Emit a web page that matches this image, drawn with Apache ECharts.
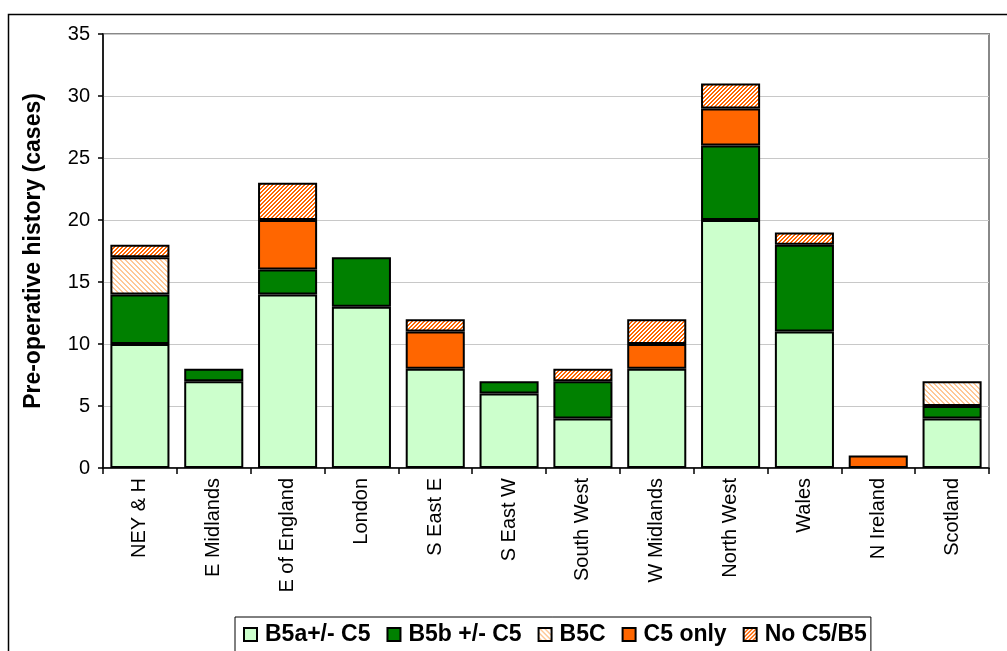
<!DOCTYPE html>
<html>
<head>
<meta charset="utf-8">
<script src="https://cdn.jsdelivr.net/npm/echarts@6/dist/echarts.min.js"></script>
<style>
html,body{margin:0;padding:0;background:#fff;}
#c{width:1007px;height:651px;}
</style>
</head>
<body>
<div id="c"></div>
<script>
const categories = ["NEY & H","E Midlands","E of England","London","S East E","S East W","South West","W Midlands","North West","Wales","N Ireland","Scotland"];
const seriesNames = ["B5a+/- C5","B5b +/- C5","B5C","C5 only","No C5/B5"];
const b5a    = [10, 7, 14, 13, 8, 6, 4, 8, 20, 11, 0, 4];
const b5b    = [ 4, 1,  2,  4, 0, 1, 3, 0,  6,  7, 0, 1];
const b5c    = [ 3, 0,  0,  0, 0, 0, 0, 0,  0,  0, 0, 2];
const c5only = [ 0, 0,  4,  0, 3, 0, 0, 2,  3,  0, 1, 0];
const noC5B5 = [ 1, 0,  3,  0, 1, 0, 1, 2,  2,  1, 0, 0];
const yTicks = [0,5,10,15,20,25,30,35];

function makePattern(size, color, test){
  const cv = document.createElement('canvas');
  cv.width = size; cv.height = size;
  const ctx = cv.getContext('2d');
  ctx.fillStyle = '#ffffff';
  ctx.fillRect(0,0,size,size);
  ctx.fillStyle = color;
  for(let y=0;y<size;y++){
    for(let x=0;x<size;x++){
      if(test(x,y)) ctx.fillRect(x,y,1,1);
    }
  }
  return {image: cv, repeat: 'repeat'};
}
const patB5C = makePattern(10, '#FFC896', (x,y)=> ((x - y + 20) % 5) < 2);
const patNo  = makePattern(8, '#FF6600', (x,y)=> ((x + y) % 4) < 2);

const colors = ['#CCFFCC', '#008000', patB5C, '#FF6600', patNo];
const dataArr = [b5a, b5b, b5c, c5only, noC5B5];
const FF = 'Liberation Sans, Arial, sans-serif';

const series = seriesNames.map((n,i)=>({
  name: n,
  type: 'bar',
  stack: 'total',
  barCategoryGap: '20%',
  data: dataArr[i].map(v => v === 0 ? null : v),
  itemStyle: { color: colors[i], borderColor: '#000', borderWidth: 2 },
  emphasis: { disabled: true },
  animation: false
}));

const chart = echarts.init(document.getElementById('c'), null, {renderer:'canvas'});
chart.setOption({
  animation: false,
  backgroundColor: '#fff',
  textStyle: { fontFamily: FF },
  graphic: [{
    type: 'rect', shape: { x: 8.5, y: 14.5, width: 1010, height: 660 },
    style: { fill: 'none', stroke: '#000', lineWidth: 1.5 }, silent: true, z: -1
  }],
  grid: {
    left: 103, right: 18, top: 34, bottom: 183,
    show: true, borderColor: '#888', borderWidth: 2, backgroundColor: 'transparent'
  },
  legend: {
    data: seriesNames,
    left: 235, top: 617,
    padding: [6, 4, 8, 8],
    borderColor: '#000', borderWidth: 1,
    itemWidth: 13, itemHeight: 13, itemGap: 16,
    icon: 'rect',
    textStyle: { fontSize: 23, fontWeight: 'bold', color: '#000', fontFamily: FF, padding: [0, 0, 0, 3] }
  },
  xAxis: {
    type: 'category',
    data: categories,
    axisLine: { lineStyle: { color: '#000', width: 1.5 } },
    axisTick: { show: true, alignWithLabel: false, length: 6, lineStyle: { color: '#000', width: 1.5 } },
    axisLabel: { rotate: 90, fontSize: 20, color: '#000', margin: 10, interval: 0, fontFamily: FF },
    splitLine: { show: false }
  },
  yAxis: {
    type: 'value',
    min: 0, max: 35, interval: 5,
    name: 'Pre-operative history (cases)',
    nameLocation: 'middle',
    nameGap: 58,
    nameTextStyle: { fontSize: 23, fontWeight: 'bold', color: '#000', fontFamily: FF },
    axisLine: { show: true, lineStyle: { color: '#000', width: 1.5 } },
    axisTick: { show: true, inside: false, length: 5, lineStyle: { color: '#000', width: 1.5 } },
    axisLabel: { fontSize: 20, color: '#000', margin: 13, fontFamily: FF, formatter: v => yTicks.includes(v) ? String(v) : '' },
    splitLine: { show: true, lineStyle: { color: '#c8c8c8', width: 1 } }
  },
  series: series
});
</script>
</body>
</html>
